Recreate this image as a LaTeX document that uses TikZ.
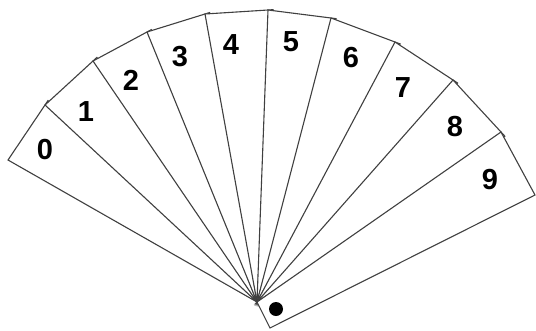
\documentclass[tikz,border=0pt]{standalone}
\usepackage{fontspec}
\setmainfont{Liberation Sans}
\usetikzlibrary{calc}

\begin{document}
\begin{tikzpicture}[
  x=1pt, y=-1pt,
  strip/.style={draw=black!75, fill=white, line width=1.1pt, line join=miter},
  num/.style={font=\fontsize{29}{29}\selectfont\bfseries, inner sep=0pt}
]
\useasboundingbox (0,0) rectangle (536,330);

% pivot and outer corners of the fan
\coordinate (pivot) at (257,302);
\coordinate (tail) at (270,328);
\foreach \n/\x/\y in {0/8/160, 1/45/105, 2/93/61, 3/147/32, 4/205/14,
                      5/268/10, 6/331/18, 7/395/42, 8/453/80, 9/501/132, 10/535/195}
  \coordinate (c\n) at (\x,\y);

% strips 0..8, each one lies over the previous one
\foreach \i [evaluate=\i as \j using int(\i+1)] in {0,...,8}
  \draw[strip] (pivot) -- (c\i) -- ($(c\i)!1.08!(c\j)$) -- cycle;

% top strip with the pin
\draw[strip] (pivot) -- (c9) -- (c10) -- (tail) -- cycle;
\fill (276,309) circle (7pt);

% numbers
\node[num] (n0) at (45,150) {0};
\node[num] (n1) at (86,112) {1};
\node[num] (n2) at (131,80) {2};
\node[num] (n3) at (180,57) {3};
\node[num] (n4) at (231,45) {4};
\node[num] (n5) at (291,42) {5};
\node[num] (n6) at (351,58) {6};
\node[num] (n7) at (403,88) {7};
\node[num] (n8) at (455,127) {8};
\node[num] (n9) at (490,180) {9};
\end{tikzpicture}
\end{document}
